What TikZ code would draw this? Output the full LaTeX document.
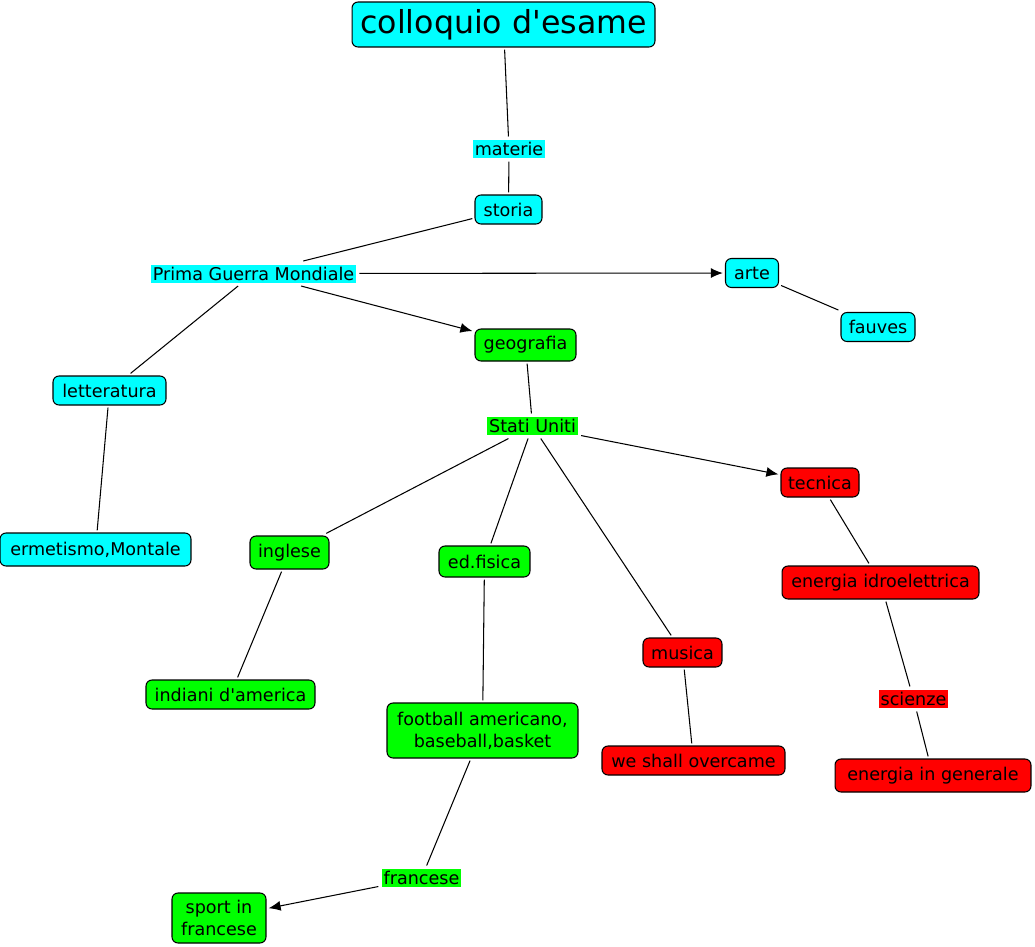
\documentclass[tikz,border=0pt]{standalone}
\usepackage{fontspec}
\setmainfont{DejaVu Sans}
\usepackage{tikz}
\usetikzlibrary{arrows.meta}
\definecolor{cmcyan}{RGB}{0,255,255}
\definecolor{cmgreen}{RGB}{0,255,0}
\definecolor{cmred}{RGB}{255,0,0}
\tikzstyle{concept}=[draw, rounded corners=0.12cm, line width=0.6pt, inner sep=0pt, outer sep=1.5pt, minimum height=0.58cm, align=center, font=\fontsize{10}{12.5}\selectfont]
\tikzstyle{linklabel}=[inner xsep=1pt, inner ysep=1pt, outer sep=2pt, minimum height=0.36cm, font=\fontsize{10}{12.5}\selectfont]
\tikzstyle{link}=[line width=0.6pt]
\tikzstyle{link>}=[line width=0.6pt, -{Latex[length=2.4mm,width=2mm]}]

\begin{document}
\begin{tikzpicture}[x=0.02cm, y=-0.02cm]
\useasboundingbox[fill=white] (0,0) rectangle (1035,947);
% concepts
\node[concept, fill=cmcyan, minimum width=6.06cm, minimum height=0.9cm, font=\fontsize{18}{22}\selectfont] (coll) at (503.5,24.5) {colloquio d\textquotesingle esame};
\node[concept, fill=cmcyan, minimum width=1.34cm] (stor) at (508.5,209.5) {storia};
\node[concept, fill=cmcyan, minimum width=1.06cm] (arte) at (752,273) {arte};
\node[concept, fill=cmcyan, minimum width=1.48cm] (fauv) at (878,327) {fauves};
\node[concept, fill=cmgreen, minimum width=2.02cm, minimum height=0.64cm] (geo) at (525.5,345) {geografia};
\node[concept, fill=cmcyan, minimum width=2.26cm] (lett) at (109.5,390.5) {letteratura};
\node[concept, fill=cmred, minimum width=1.56cm] (tecn) at (820,482.5) {tecnica};
\node[concept, fill=cmcyan, minimum width=3.82cm, minimum height=0.66cm] (erm) at (95.5,549.5) {ermetismo,Montale};
\node[concept, fill=cmgreen, minimum width=1.58cm, minimum height=0.66cm] (ingl) at (289.5,552.5) {inglese};
\node[concept, fill=cmgreen, minimum width=1.82cm, minimum height=0.62cm] (edf) at (484.5,561.5) {ed.fisica};
\node[concept, fill=cmred, minimum width=3.94cm, minimum height=0.66cm] (eidro) at (880.5,582.5) {energia idroelettrica};
\node[concept, fill=cmred, minimum width=1.58cm] (mus) at (682.5,652.5) {musica};
\node[concept, fill=cmgreen, minimum width=3.38cm] (ind) at (230.5,694.5) {indiani d\textquotesingle america};
\node[concept, fill=cmgreen, minimum width=3.82cm, minimum height=1.1cm] (foot) at (482.5,730.5) {football americano,\\baseball,basket};
\node[concept, fill=cmred, minimum width=3.66cm] (wes) at (693.5,760.5) {we shall overcame};
\node[concept, fill=cmred, minimum width=3.92cm, minimum height=0.66cm] (egen) at (933,775.5) {energia in generale};
\node[concept, fill=cmgreen, minimum width=1.88cm, minimum height=1.0cm] (sport) at (219,918) {sport in\\francese};
% link labels
\node[linklabel, fill=cmcyan] (mat) at (509,149) {materie};
\node[linklabel, fill=cmcyan] (pgm) at (253.5,273.5) {Prima Guerra Mondiale};
\node[linklabel, fill=cmgreen] (su) at (532.5,426) {Stati Uniti};
\node[linklabel, fill=cmred] (sci) at (913.5,699) {scienze};
\node[linklabel, fill=cmgreen] (fra) at (421.5,878) {francese};
% connectors
\draw[link] (coll) -- (mat);
\draw[link] (mat) -- (stor);
\draw[link] (stor) -- (pgm);
\draw[link>] (pgm) -- (arte);
\draw[link>] (pgm) -- (geo);
\draw[link] (pgm) -- (lett);
\draw[link] (arte) -- (fauv);
\draw[link] (lett) -- (erm);
\draw[link] (geo) -- (su);
\draw[link] (su) -- (ingl);
\draw[link] (su) -- (edf);
\draw[link] (su) -- (mus);
\draw[link>] (su) -- (tecn);
\draw[link] (ingl) -- (ind);
\draw[link] (edf) -- (foot);
\draw[link] (foot) -- (fra);
\draw[link>] (fra) -- (sport);
\draw[link] (mus) -- (wes);
\draw[link] (tecn) -- (eidro);
\draw[link] (eidro) -- (sci);
\draw[link] (sci) -- (egen);
\end{tikzpicture}
\end{document}
